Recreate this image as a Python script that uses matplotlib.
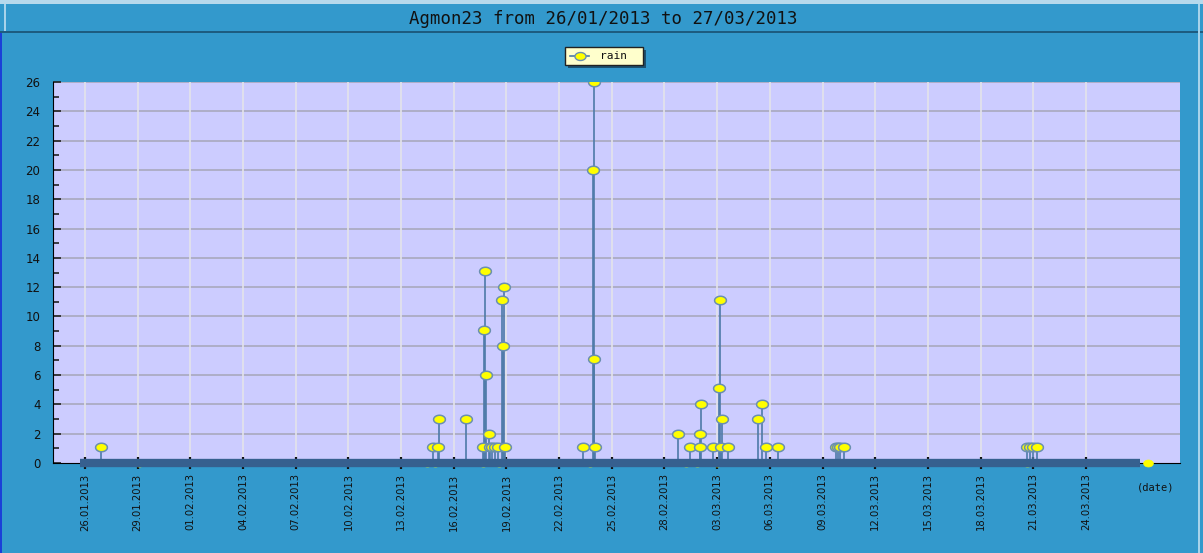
import matplotlib
matplotlib.use("Agg")
import matplotlib.pyplot as plt
import matplotlib.dates as mdates
from matplotlib.patches import Rectangle
from matplotlib.path import Path
from matplotlib.lines import Line2D
import numpy as np
from datetime import datetime

title = "Agmon23 from 26/01/2013 to 27/03/2013"
series_name = "rain"

# rain events (timestamp, value)
rain_times = [
    "2013-01-26 21:50", "2013-01-29 02:00",
    "2013-02-14 11:30", "2013-02-14 19:40", "2013-02-14 22:20", "2013-02-15 02:30", "2013-02-15 04:00",
    "2013-02-16 16:50",
    "2013-02-17 15:50", "2013-02-17 15:50", "2013-02-17 17:20", "2013-02-17 18:40", "2013-02-17 20:00",
    "2013-02-18 00:00", "2013-02-18 01:30", "2013-02-18 04:20", "2013-02-18 08:20", "2013-02-18 12:30",
    "2013-02-18 14:20", "2013-02-18 18:00", "2013-02-18 19:10", "2013-02-18 20:40", "2013-02-18 22:00",
    "2013-02-23 08:40", "2013-02-23 18:10", "2013-02-23 22:20", "2013-02-23 23:00", "2013-02-23 23:45",
    "2013-02-24 00:30",
    "2013-02-28 18:30", "2013-03-01 05:30", "2013-03-01 10:50", "2013-03-01 20:25",
    "2013-03-02 00:30", "2013-03-02 01:00", "2013-03-02 02:00", "2013-03-02 18:15", "2013-03-02 23:50",
    "2013-03-03 03:00", "2013-03-03 03:50", "2013-03-03 05:10", "2013-03-03 06:40", "2013-03-03 14:50",
    "2013-03-05 08:00", "2013-03-05 13:10", "2013-03-05 18:40", "2013-03-06 11:00",
    "2013-03-09 18:30", "2013-03-09 21:10", "2013-03-10 00:00", "2013-03-10 05:20",
    "2013-03-20 15:20", "2013-03-20 16:00", "2013-03-20 19:40", "2013-03-20 23:45", "2013-03-21 05:00",
    "2013-03-27 13:00",
]
rain_values = [
    1.1, 0,
    0, 1.1, 0, 1.1, 3,
    3,
    1.1, 0, 9.1, 13.1, 6,
    2, 1.1, 1.1, 1.1, 1.1,
    0, 11.1, 8, 12, 1.1,
    1.1, 0, 20, 26, 7.1,
    1.1,
    2, 0, 1.1, 0,
    2, 1.1, 4, 1.1, 0,
    5.1, 11.1, 1.1, 3, 1.1,
    3, 4, 1.1, 1.1,
    1.1, 1.1, 1.1, 1.1,
    1.1, 0, 1.1, 1.1, 1.1,
    0,
]

tick_dates = ["26.01.2013", "29.01.2013", "01.02.2013", "04.02.2013", "07.02.2013",
              "10.02.2013", "13.02.2013", "16.02.2013", "19.02.2013", "22.02.2013",
              "25.02.2013", "28.02.2013", "03.03.2013", "06.03.2013", "09.03.2013",
              "12.03.2013", "15.03.2013", "18.03.2013", "21.03.2013", "24.03.2013"]
y_ticks = list(range(0, 27, 2))

BG = "#3399cc"
PLOT_BG = "#ccccff"

times = [datetime.strptime(t, "%Y-%m-%d %H:%M") for t in rain_times]
xt = [mdates.date2num(t) for t in times]
tick_x = [mdates.date2num(datetime.strptime(d, "%d.%m.%Y")) for d in tick_dates]

W, H = 1203, 553
fig = plt.figure(figsize=(W / 100, H / 100), dpi=100, facecolor=BG)


def fr(x, y, w, h, **kw):
    fig.patches.append(Rectangle((x / W, 1 - (y + h) / H), w / W, h / H,
                                 transform=fig.transFigure, **kw))


fr(0, 0, W, 4, facecolor="#b7d9ec", edgecolor="none")
fr(0, 4, W, 28, facecolor=BG, edgecolor="none")
fr(0, 31, W, 2, facecolor="#1d5c80", edgecolor="none")
fr(0, 33, 2, H - 33, facecolor="#1a3fd8", edgecolor="none")
fr(W - 5, 4, 2, H - 4, facecolor="#a8d3ea", edgecolor="none")
fr(4, 4, 2, 27, facecolor="#a8d3ea", edgecolor="none")

fig.text(603 / W, 1 - 19 / H, title, ha="center", va="center",
         fontsize=12.5, family="DejaVu Sans Mono", color="#111111")

left, right, top, bottom = 53, 1180, 82, 463
ax = fig.add_axes([left / W, 1 - bottom / H, (right - left) / W, (bottom - top) / H])
ax.set_facecolor(PLOT_BG)

x0 = mdates.date2num(datetime(2013, 1, 26))
pxday = 17.56
ax.set_xlim(x0 + (left - 85) / pxday, x0 + (right - 85) / pxday)
ax.set_ylim(0, 26)

# grid
for yv in y_ticks[1:]:
    ax.axhline(yv, color="#a6a6b8", lw=1.1, zorder=1)
for tx in tick_x:
    ax.axvline(tx, color="#e4e4ea", lw=1.2, zorder=1)

# stems
vals = np.array(rain_values)
xt_arr = np.array(xt)
nz = vals > 0
ax.vlines(xt_arr[nz], 0, vals[nz], color="#4d7aa8", lw=1.2, zorder=3)

# zero band
band_start = x0 + (80 - 85) / pxday
band_end = x0 + (1140 - 85) / pxday
ax.plot([band_start, band_end], [0, 0], color="#36608f", lw=6, solid_capstyle="butt",
        zorder=4, clip_on=False)

# ellipse-like marker
th = np.linspace(0, 2 * np.pi, 40)
ell = Path(np.column_stack([1.0 * np.cos(th), 0.72 * np.sin(th)]))

ax.plot(xt_arr[nz], vals[nz], ls="none", marker=ell, ms=8.5, mfc="#ffff00",
        mec="#6a8fb0", mew=1.1, zorder=6)
ax.plot(xt_arr[~nz], vals[~nz], ls="none", marker=ell, ms=7, mfc="#ffff00",
        mec="#ffff00", mew=0.5, zorder=3.5, clip_on=False)

# axes style
for s in ["top", "right"]:
    ax.spines[s].set_visible(False)
ax.spines["left"].set_color("black")
ax.spines["bottom"].set_color("black")
ax.set_yticks(y_ticks)
ax.set_yticks(list(range(1, 26, 2)), minor=True)
ax.set_yticklabels([str(v) for v in y_ticks], fontsize=8.5, color="#111111")
ax.tick_params(axis="y", which="major", direction="in", length=6, width=1.2, color="#222222", pad=9)
ax.tick_params(axis="y", which="minor", direction="in", length=4, width=1.2, color="#222222")
ax.set_xticks(tick_x)
ax.set_xticklabels(tick_dates, rotation=90, fontsize=7.2, color="#111111")
ax.tick_params(axis="x", direction="inout", length=9, width=1.6, color="#111111", pad=3)
for t in ax.get_xticklines():
    t.set_zorder(5)

fig.text(1156 / W, 1 - 488 / H, "(date)", ha="center", va="center",
         fontsize=7.5, family="DejaVu Sans Mono", color="#111111")

# legend box
lx, ly, lw_, lh = 565, 47, 78, 18
fr(lx + 3, ly + 3, lw_, lh, facecolor="#1c5170", edgecolor="none")
fr(lx, ly, lw_, lh, facecolor="#ffffcc", edgecolor="#222222", lw=1)
fig.lines.append(Line2D([570 / W, 589 / W], [1 - 56 / H, 1 - 56 / H], transform=fig.transFigure,
                        color="#4d7aa8", lw=1.2))
fig.lines.append(Line2D([579.5 / W], [1 - 56 / H], transform=fig.transFigure,
                        ls="none", marker=ell, ms=8, mfc="#ffff00", mec="#6a8fb0", mew=1))
fig.text(600 / W, 1 - 56 / H, series_name, ha="left", va="center",
         fontsize=8, family="DejaVu Sans Mono", color="#111111")

fig.savefig("out.png", dpi=100, facecolor=BG)
